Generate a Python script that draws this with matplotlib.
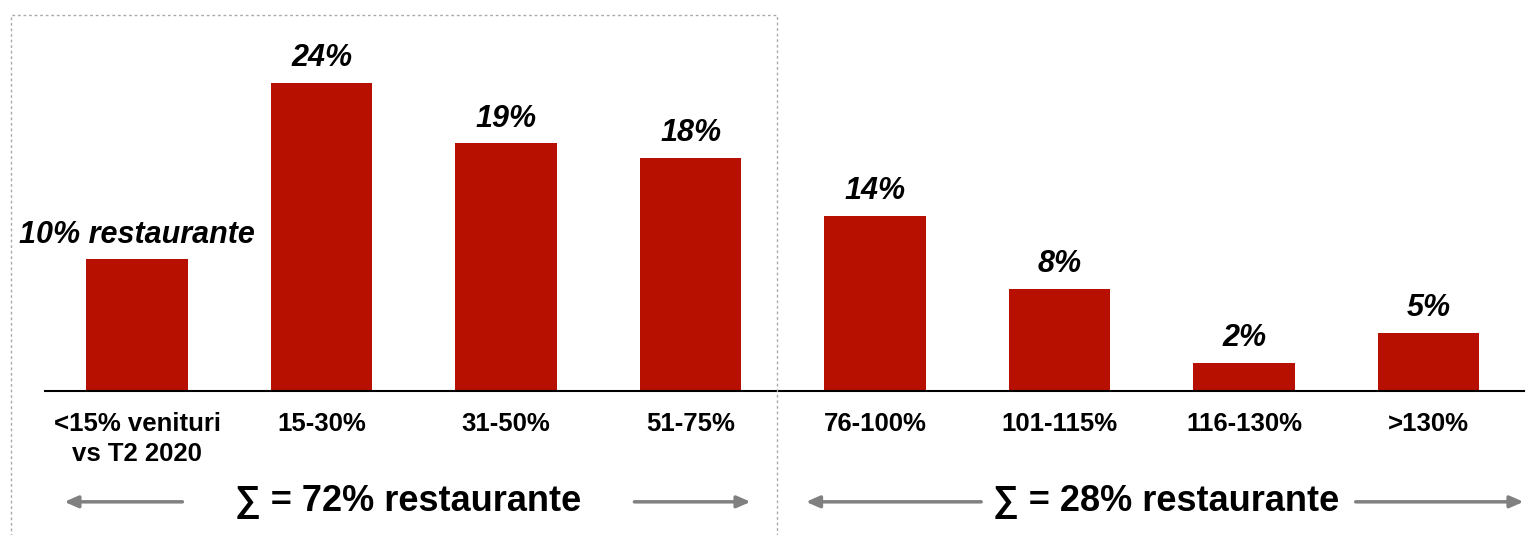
import matplotlib.pyplot as plt
from matplotlib.patches import Rectangle
from matplotlib import font_manager

categories = ['<15% venituri\nvs T2 2020', '15-30%', '31-50%', '51-75%',
              '76-100%', '101-115%', '116-130%', '>130%']
# bar heights (labels are rounded)
values = [10.2, 23.9, 19.2, 18.1, 13.6, 7.9, 2.2, 4.5]
value_labels = ['10% restaurante', '24%', '19%', '18%', '14%', '8%', '2%', '5%']
group_labels = ['∑ = 72% restaurante', '∑ = 28% restaurante']

names = {f.name for f in font_manager.fontManager.ttflist}
fam = 'Liberation Sans Narrow' if 'Liberation Sans Narrow' in names else 'Liberation Sans'
plt.rcParams['font.family'] = [fam, 'DejaVu Sans']

fig = plt.figure(figsize=(15.3, 5.35), dpi=100)
ax = fig.add_axes([0.0294, 0.269, 0.967, 0.7234])

x = range(len(values))
ax.bar(x, values, width=0.55, color='#B81000')
ax.set_xlim(-0.5, 7.52)
ax.set_ylim(0, 30)
for i, (v, lab) in enumerate(zip(values, value_labels)):
    ax.text(i, v + 0.75, lab, ha='center', va='bottom', fontsize=22,
            fontweight='bold', style='italic')

ax.set_xticks(list(x))
ax.set_xticklabels(categories, fontsize=18.5, fontweight='bold', va='top',
                   linespacing=1.3)
ax.tick_params(axis='x', length=0, pad=15)
ax.set_yticks([])
for s in ['top', 'right', 'left']:
    ax.spines[s].set_visible(False)
ax.spines['bottom'].set_linewidth(1.5)

# dotted box around the first group
fig.add_artist(Rectangle((0.0072, -0.02), 0.5008, 0.992, transform=fig.transFigure,
                         fill=False, edgecolor='#aaaaaa', linestyle=(0, (2, 2)),
                         linewidth=1))

# group arrows and sums
ytxt = 0.062
arr = dict(arrowstyle='-|>,head_length=0.8,head_width=0.35', color='#808080', lw=2.5)
for x0, x1 in [(0.26, -0.41), (2.68, 3.34), (4.59, 3.61), (6.59, 7.53)]:
    ax.annotate('', xy=(x1, ytxt), xycoords=('data', 'figure fraction'),
                xytext=(x0, ytxt), textcoords=('data', 'figure fraction'),
                arrowprops=arr, annotation_clip=False)
for xc, lab in zip([1.47, 5.58], group_labels):
    ax.annotate(lab, xy=(xc, ytxt), xycoords=('data', 'figure fraction'),
                ha='center', va='center', fontsize=26, fontweight='bold',
                annotation_clip=False)

fig.savefig('out.png', dpi=100)
